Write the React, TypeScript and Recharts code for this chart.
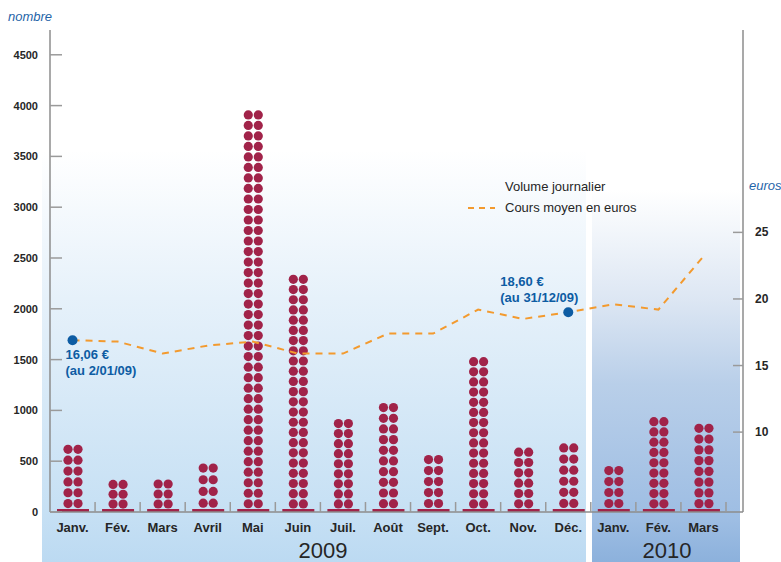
import React from "react";
import { ComposedChart, Bar, Line, XAxis, YAxis, Legend } from "recharts";

document.body.style.margin = "0";

const months2009 = ["Janv.", "Fév.", "Mars", "Avril", "Mai", "Juin", "Juil.", "Août", "Sept.", "Oct.", "Nov.", "Déc."];
const months2010 = ["Janv.", "Fév.", "Mars"];
const volume2009 = [670, 320, 325, 490, 3960, 2340, 920, 1080, 570, 1530, 640, 685];
const volume2010 = [462, 940, 876];
const cours2009 = [16.9, 16.8, 15.9, 16.5, 16.8, 15.9, 15.9, 17.4, 17.4, 19.2, 18.5, 19.0];
const cours2010 = [19.6, 19.2, 23.2];
const volumeTicks = [0, 500, 1000, 1500, 2000, 2500, 3000, 3500, 4000, 4500];
const coursTicks = [10, 15, 20, 25];

// price call-outs, attached to points of the line
const notes = [
  { index: 0, lines: ["16,06 €", "(au 2/01/09)"], dx: -7, dy: 19 },
  { index: 11, lines: ["18,60 €", "(au 31/12/09)"], dx: -68, dy: -26 },
];

const data = [
  ...months2009.map((m, i) => ({ key: `${m} 2009`, month: m, volume: volume2009[i], cours: cours2009[i] })),
  ...months2010.map((m, i) => ({ key: `${m} 2010`, month: m, volume: volume2010[i], cours: cours2010[i] })),
];

const W = 781;
const H = 562;
const PLOT_LEFT = 50;
const PLOT_RIGHT = 743;
const PAD_RIGHT = 17;
const BAND = (PLOT_RIGHT - PLOT_LEFT - PAD_RIGHT) / data.length;
const ROW = 10.4;

const FONT = "'Liberation Sans', Arial, sans-serif";
const RED = "#a12349";
const ORANGE = "#f39a2e";
const BLUE = "#0d5ca3";
const AXIS = "#8c8c8c";
const TEXT = "#262626";

function DotColumn(props: any) {
  const { x, y, width, height } = props;
  if (height == null || height <= 0) return <g />;
  const base = 3;
  const colH = height - base;
  const rows = Math.max(1, Math.round(colH / ROW));
  const step = colH / rows;
  const cx = x + width / 2;
  const dots = [];
  for (let i = 0; i < rows; i++) {
    const cy = y + colH - step * (i + 0.5);
    dots.push(<circle key={`a${i}`} cx={cx - 5} cy={cy} r={4.6} fill={RED} />);
    dots.push(<circle key={`b${i}`} cx={cx + 5} cy={cy} r={4.6} fill={RED} />);
  }
  return (
    <g>
      {dots}
      <rect x={x} y={y + colH} width={width} height={base} fill={RED} />
    </g>
  );
}

function renderCoursDot(props: any) {
  const { cx, cy, index } = props;
  const note = notes.find((n) => n.index === index);
  if (!note || cx == null) return <g key={`d${index}`} />;
  return (
    <g key={`d${index}`}>
      <circle cx={cx} cy={cy} r={5} fill={BLUE} />
      {note.lines.map((t, i) => (
        <text
          key={i}
          x={cx + note.dx}
          y={cy + note.dy + i * 16}
          fill={BLUE}
          fontFamily={FONT}
          fontSize={13}
          fontWeight="bold"
        >
          {t}
        </text>
      ))}
    </g>
  );
}

function MonthTick(props: any) {
  const { x, y, payload } = props;
  const d = data[payload.index];
  return (
    <g>
      <line x1={x + BAND / 2} x2={x + BAND / 2} y1={y - 10} y2={y} stroke="#9a9a9a" strokeWidth={1.5} />
      <text x={x} y={y + 20} textAnchor="middle" fill={TEXT} fontFamily={FONT} fontSize={13} fontWeight="bold">
        {d ? d.month : payload.value}
      </text>
    </g>
  );
}

function LeftTick(props: any) {
  const { x, y, payload } = props;
  return (
    <g>
      <line x1={x + 12} x2={x + 24} y1={y} y2={y} stroke="#9a9a9a" strokeWidth={1.5} />
      <text x={x} y={y + 4} textAnchor="end" fill={TEXT} fontFamily={FONT} fontSize={11} fontWeight="bold">
        {payload.value}
      </text>
    </g>
  );
}

function RightTick(props: any) {
  const { x, y, payload } = props;
  return (
    <g>
      <line x1={x - 22} x2={x - 12} y1={y} y2={y} stroke="#9a9a9a" strokeWidth={1.5} />
      <text x={x} y={y + 4} textAnchor="start" fill={TEXT} fontFamily={FONT} fontSize={12} fontWeight="bold">
        {payload.value}
      </text>
    </g>
  );
}

function LegendContent(props: any) {
  const items = [...(props.payload || [])].sort(
    (a: any, b: any) => (a.type === "line" ? 1 : 0) - (b.type === "line" ? 1 : 0)
  );
  return (
    <div style={{ fontFamily: FONT, fontSize: 13, color: TEXT }}>
      {items.map((item: any) => (
        <div key={item.value} style={{ display: "flex", alignItems: "center", height: 21 }}>
          <svg width={43} height={10}>
            {item.type === "line" && (
              <line x1={6} x2={33} y1={5} y2={5} stroke={ORANGE} strokeWidth={2} strokeDasharray="6 5" />
            )}
          </svg>
          <span>{item.value}</span>
        </div>
      ))}
    </div>
  );
}

export default function App() {
  return (
    <div style={{ position: "relative", width: W, height: H, background: "#fff", overflow: "hidden" }}>
      <div
        style={{
          position: "absolute",
          left: 42,
          top: 150,
          width: 544,
          height: 412,
          background: "linear-gradient(to bottom, #ffffff 0%, #e6f1fa 36%, #c6e0f4 88%, #bcdaf2 100%)",
        }}
      />
      <div
        style={{
          position: "absolute",
          left: 592,
          top: 190,
          width: 148,
          height: 372,
          background: "linear-gradient(to bottom, #ffffff 0%, #dce6f3 30%, #b9cfe9 52%, #9dbde3 89%, #8cb1dc 100%)",
        }}
      />
      <div style={{ position: "absolute", left: 0, top: 0 }}>
        <ComposedChart width={W} height={H} data={data} margin={{ top: 30, right: 0, bottom: 0, left: 0 }}>
          <XAxis
            dataKey="key"
            height={50}
            padding={{ left: 0, right: PAD_RIGHT }}
            tickSize={0}
            tickMargin={0}
            tick={<MonthTick />}
            interval={0}
            axisLine={{ stroke: AXIS, strokeWidth: 1.5 }}
          />
          <YAxis
            yAxisId="left"
            width={50}
            domain={[0, 4744]}
            ticks={volumeTicks}
            tickSize={0}
            tickMargin={12}
            tick={<LeftTick />}
            axisLine={{ stroke: AXIS, strokeWidth: 1.5 }}
          />
          <YAxis
            yAxisId="right"
            orientation="right"
            width={38}
            domain={[4, 40.2]}
            ticks={coursTicks}
            tickSize={0}
            tickMargin={12}
            tick={<RightTick />}
            axisLine={{ stroke: AXIS, strokeWidth: 1.5 }}
          />
          <Legend
            layout="horizontal"
            verticalAlign="middle"
            align="center"
            wrapperStyle={{ left: 462, top: 176, width: 230 }}
            content={<LegendContent />}
          />
          <Bar
            yAxisId="left"
            dataKey="volume"
            name="Volume journalier"
            barSize={32}
            fill={RED}
            shape={<DotColumn />}
            legendType="circle"
            isAnimationActive={false}
          />
          <Line
            yAxisId="right"
            dataKey="cours"
            name="Cours moyen en euros"
            type="linear"
            stroke={ORANGE}
            strokeWidth={2}
            strokeDasharray="7 6"
            dot={renderCoursDot}
            activeDot={false}
            legendType="line"
            isAnimationActive={false}
          />
        </ComposedChart>
      </div>
      <div style={{ position: "absolute", left: 8, top: 9, fontFamily: FONT, fontSize: 13, fontStyle: "italic", color: "#1f64a8" }}>
        nombre
      </div>
      <div style={{ position: "absolute", left: 749, top: 178, fontFamily: FONT, fontSize: 13, fontStyle: "italic", color: "#1f64a8" }}>
        euros
      </div>
      <div style={{ position: "absolute", left: 273, width: 100, top: 541, height: 20, lineHeight: "20px", textAlign: "center", fontFamily: FONT, fontSize: 22, color: TEXT }}>
        2009
      </div>
      <div style={{ position: "absolute", left: 617, width: 100, top: 541, height: 20, lineHeight: "20px", textAlign: "center", fontFamily: FONT, fontSize: 22, color: TEXT }}>
        2010
      </div>
    </div>
  );
}
